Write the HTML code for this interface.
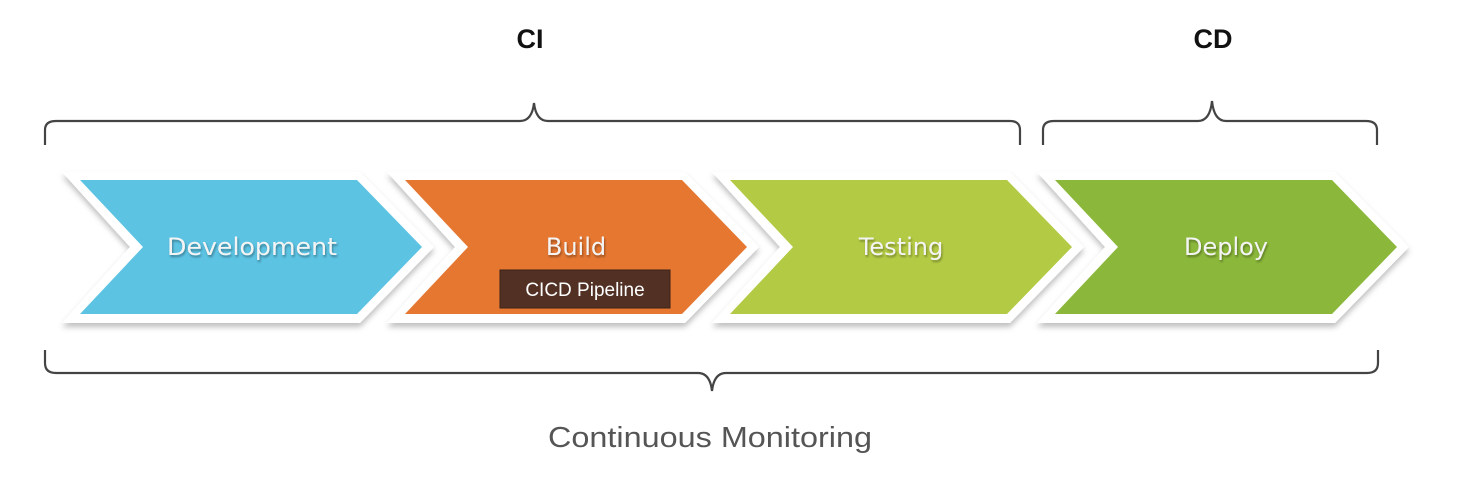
<!DOCTYPE html>
<html><head><style>
html,body{margin:0;padding:0;background:#fff;}
svg{display:block;}
</style></head><body>
<svg width="1480" height="492" viewBox="0 0 1480 492" xmlns="http://www.w3.org/2000/svg">
<defs>
<filter id="sh" x="-10%" y="-10%" width="120%" height="130%">
<feDropShadow dx="0" dy="4" stdDeviation="3" flood-color="#000" flood-opacity="0.25"/>
</filter>
<filter id="ts"><feDropShadow dx="1" dy="2" stdDeviation="1" flood-color="#000" flood-opacity="0.35"/></filter>
</defs>
<g font-family="Liberation Sans, sans-serif">
<text x="530" y="48" font-size="27" font-weight="bold" text-anchor="middle" fill="#111">CI</text>
<text x="1213" y="48" font-size="27" font-weight="bold" text-anchor="middle" fill="#111">CD</text>
</g>
<g fill="none" stroke="#444" stroke-width="2.2">
<path d="M45,145 V130 Q45,121 56,121 H520 Q532,121 534,103 Q536,121 548,121 H1010 Q1020,121 1020,130 V145"/>
<path d="M1043,145 V130 Q1043,121 1054,121 H1198 Q1210,121 1212,101 Q1214,121 1226,121 H1366 Q1377,121 1377,130 V145"/>
<path d="M45,350 V363 Q45,373 56,373 H698 Q710,373 712,391 Q714,373 726,373 H1367 Q1378,373 1378,363 V350"/>
</g>
<g filter="url(#sh)" fill="#fff">
<path d="M62,172 L360,172 L434,247 L360,323 L62,323 L130,247 Z"/>
<path d="M387,172 L685,172 L759,247 L685,323 L387,323 L455,247 Z"/>
<path d="M712,172 L1010,172 L1084,247 L1010,323 L712,323 L780,247 Z"/>
<path d="M1037,172 L1335,172 L1409,247 L1335,323 L1037,323 L1105,247 Z"/>
</g>
<path d="M80,180 L357,180 L422,247 L357,314 L80,314 L143,247 Z" fill="#5cc3e3"/>
<path d="M405,180 L682,180 L747,247 L682,314 L405,314 L468,247 Z" fill="#e57731"/>
<path d="M730,180 L1007,180 L1072,247 L1007,314 L730,314 L793,247 Z" fill="#b3cb44"/>
<path d="M1055,180 L1332,180 L1397,247 L1332,314 L1055,314 L1118,247 Z" fill="#8bb83a"/>
<g font-family="DejaVu Sans, sans-serif" font-size="24" fill="#f4f4f4" text-anchor="middle" filter="url(#ts)">
<text x="252" y="255" textLength="170" lengthAdjust="spacingAndGlyphs">Development</text>
<text x="576" y="255">Build</text>
<text x="901" y="255">Testing</text>
<text x="1226" y="255">Deploy</text>
</g>
<rect x="500" y="270" width="170" height="38" fill="#523124" stroke="#3a2218" stroke-width="1"/>
<text x="585" y="296" font-family="Liberation Sans, sans-serif" font-size="19" fill="#fff" text-anchor="middle">CICD Pipeline</text>
<text x="710" y="447" font-family="Liberation Sans, sans-serif" font-size="29" fill="#555" text-anchor="middle" textLength="324" lengthAdjust="spacingAndGlyphs">Continuous Monitoring</text>
</svg>
</body></html>
